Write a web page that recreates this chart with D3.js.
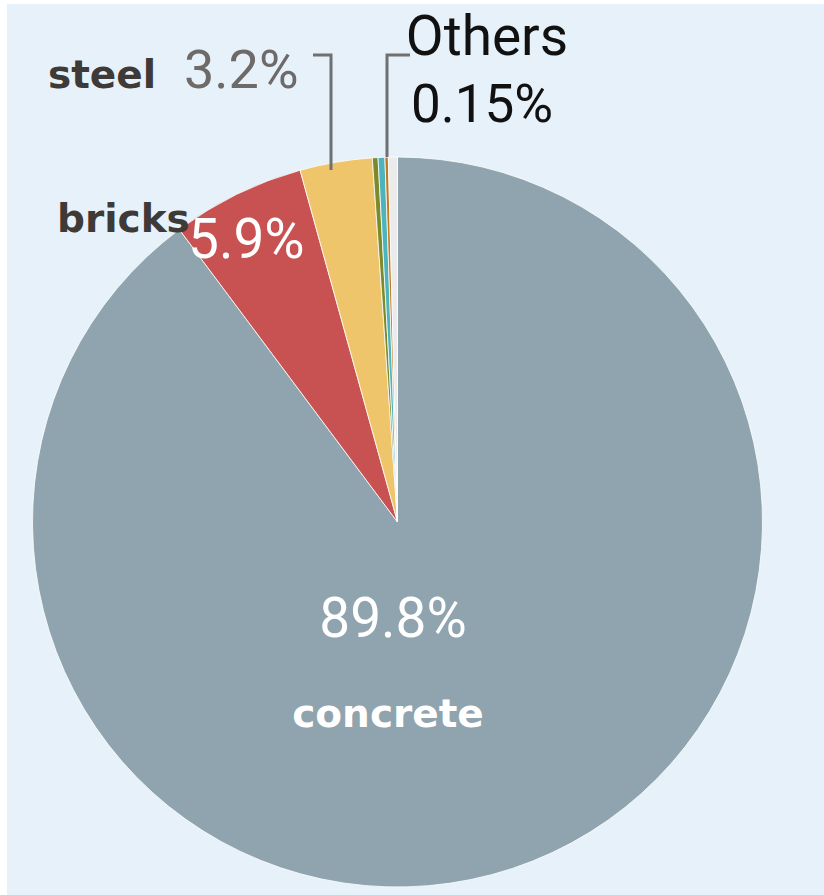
<!DOCTYPE html>
<html>
<head>
<meta charset="utf-8">
<script src="https://cdn.jsdelivr.net/npm/d3@7"></script>
<style>
  html, body { margin: 0; padding: 0; background: #ffffff; }
  svg { display: block; }
</style>
</head>
<body>
<svg id="chart" width="824" height="895"></svg>
<script>
// Material shares (%) of the building stock, clockwise from 12 o'clock
const materials = ["concrete", "bricks", "steel", "glass", "timber", "Others", "other minerals"];
const shares    = [89.8, 5.9, 3.2, 0.25, 0.3, 0.15, 0.4];
const colors    = ["#8fa4ae", "#c85151", "#efc56b", "#7d8a2c", "#4db3bd", "#c47a1f", "#ebebeb"];

const svg = d3.select("#chart");

// panel background
svg.append("rect")
  .attr("x", 7).attr("y", 4)
  .attr("width", 824 - 7).attr("height", 895 - 4)
  .attr("fill", "#e6f1f9");

const cx = 397.5, cy = 522, radius = 365;

const pie = d3.pie().sort(null).value(d => d.v);
const arc = d3.arc().innerRadius(0).outerRadius(radius);
const data = materials.map((m, i) => ({ name: m, v: shares[i], color: colors[i] }));
const arcs = pie(data);

const g = svg.append("g").attr("transform", `translate(${cx},${cy})`);
g.selectAll("path")
  .data(arcs)
  .join("path")
  .attr("d", arc)
  .attr("fill", d => d.data.color)
  .attr("stroke", "#ffffff")
  .attr("stroke-width", 0.8);

const fmt = v => `${v}%`;
const pctFont = "Roboto, 'Noto Sans', sans-serif";
const nameFont = "'DejaVu Sans', sans-serif";

// leader lines
const lines = [
  "M313,55 H331 V170",
  "M410,55 H387 V157"
];
svg.selectAll("path.leader")
  .data(lines)
  .join("path")
  .attr("class", "leader")
  .attr("d", d => d)
  .attr("fill", "none")
  .attr("stroke", "#707070")
  .attr("stroke-width", 3);

// text labels
const labels = [
  { t: fmt(shares[0]), x: 393, y: 637, anchor: "middle", size: 55, fill: "#ffffff", font: pctFont, weight: 400 },
  { t: materials[0],   x: 388, y: 727, anchor: "middle", size: 39, fill: "#ffffff", font: nameFont, weight: 700 },
  { t: fmt(shares[1]), x: 188, y: 258, anchor: "start",  size: 55, fill: "#ffffff", font: pctFont, weight: 400 },
  { t: materials[1],   x: 57,  y: 232, anchor: "start",  size: 39, fill: "#3e3a38", font: nameFont, weight: 700 },
  { t: fmt(shares[2]), x: 184, y: 88,  anchor: "start",  size: 54, fill: "#6e6a69", font: pctFont, weight: 400 },
  { t: materials[2],   x: 48,  y: 88,  anchor: "start",  size: 39, fill: "#3e3a38", font: nameFont, weight: 700 },
  { t: materials[5],   x: 487, y: 55,  anchor: "middle", size: 55, fill: "#111111", font: pctFont, weight: 400 },
  { t: fmt(shares[5]), x: 482, y: 122, anchor: "middle", size: 53, fill: "#111111", font: pctFont, weight: 400 }
];
svg.selectAll("text.lbl")
  .data(labels)
  .join("text")
  .attr("class", "lbl")
  .attr("x", d => d.x)
  .attr("y", d => d.y)
  .attr("text-anchor", d => d.anchor)
  .attr("font-family", d => d.font)
  .attr("font-size", d => d.size)
  .attr("font-weight", d => d.weight)
  .attr("fill", d => d.fill)
  .text(d => d.t);
</script>
</body>
</html>
